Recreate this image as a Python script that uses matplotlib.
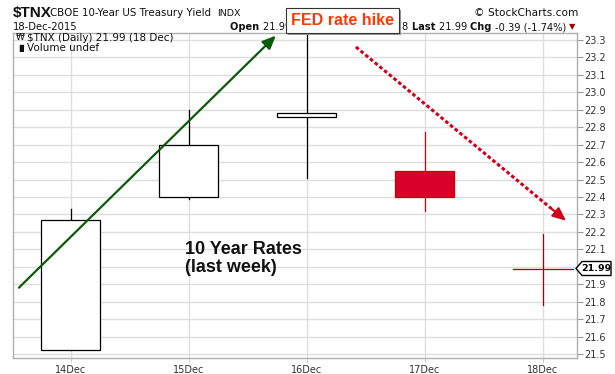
import matplotlib
matplotlib.use("Agg")
import matplotlib.pyplot as plt
from matplotlib.patches import Rectangle, Polygon
import matplotlib.transforms as mtrans

# ---- data ----
dates = ["14Dec", "15Dec", "16Dec", "17Dec", "18Dec"]
opens = [21.52, 22.40, 22.86, 22.55, 21.99]
closes = [22.27, 22.70, 22.88, 22.40, 21.99]
highs = [22.33, 22.90, 23.34, 22.77, 22.19]
lows = [21.52, 22.39, 22.51, 22.32, 21.78]
yticks = [21.5, 21.6, 21.7, 21.8, 21.9, 22.0, 22.1, 22.2, 22.3, 22.4,
          22.5, 22.6, 22.7, 22.8, 22.9, 23.0, 23.1, 23.2, 23.3]
last_value = 21.99
green_arrow = [(-0.44, 21.88), (1.737, 23.325)]
red_arrow = [(2.415, 23.26), (4.195, 22.264)]

W, H = 615, 374
fig = plt.figure(figsize=(W / 100, H / 100), dpi=100)
fig.patch.set_facecolor("white")

L, R, T, B = 13, 577, 33, 358
ax = fig.add_axes([L / W, (H - B) / H, (R - L) / W, (B - T) / H])
ax.set_xlim(-0.49, 4.288)
ax.set_ylim(21.477, 23.34)

for s in ax.spines.values():
    s.set_color("#b0b0b0")
    s.set_linewidth(1.0)

ax.set_yticks(yticks)
# the 22.0 label is covered by the last-value tag in the reference
ax.set_yticklabels(["" if abs(v - 22.0) < 1e-9 else f"{v:.1f}" for v in yticks])
ax.yaxis.tick_right()
ax.tick_params(axis="y", which="both", length=4, width=0.8, color="#999999",
               labelsize=7, labelcolor="#333333", pad=1)
ax.set_xticks(range(len(dates)))
ax.set_xticklabels(dates)
ax.tick_params(axis="x", length=3, width=0.8, color="#cccccc",
               labelsize=7, labelcolor="#333333", pad=2)
ax.grid(True, color="#dedede", linewidth=1.0)
ax.set_axisbelow(True)

bw = 0.5
for i, (o, c, h, l) in enumerate(zip(opens, closes, highs, lows)):
    if o == c:
        col = "#a80000"
        ax.plot([i, i], [l, h], color=col, lw=0.9, zorder=3)
        ax.plot([i - bw / 2, i + bw / 2], [o, o], color=col, lw=0.9, zorder=3)
    elif c > o:
        ax.plot([i, i], [l, h], color="black", lw=0.9, zorder=2)
        ax.add_patch(Rectangle((i - bw / 2, o), bw, c - o, facecolor="white",
                               edgecolor="black", lw=0.9, zorder=3))
    else:
        ax.plot([i, i], [l, h], color="#d4001f", lw=0.9, zorder=2)
        ax.add_patch(Rectangle((i - bw / 2, c), bw, o - c, facecolor="#d9002b",
                               edgecolor="#cc0000", lw=0.9, zorder=3))

# arrows
ax.annotate("", xy=green_arrow[1], xytext=green_arrow[0], annotation_clip=False,
            arrowprops=dict(arrowstyle="-|>,head_length=0.8,head_width=0.35",
                            color="#0b5a0b", lw=1.6, shrinkA=0, shrinkB=0),
            zorder=5)
(x1, y1), (x2, y2) = red_arrow
f = 0.93
xm, ym = x1 + (x2 - x1) * f, y1 + (y2 - y1) * f
ax.plot([x1, xm], [y1, ym], color="#d0001a", lw=2.2, linestyle=(0, (1.2, 0.8)),
        zorder=5, clip_on=False)
ax.annotate("", xy=(x2, y2), xytext=(xm, ym), annotation_clip=False,
            arrowprops=dict(arrowstyle="-|>,head_length=0.8,head_width=0.35",
                            color="#d0001a", lw=1.5, shrinkA=0, shrinkB=0),
            zorder=5)

# last value tag
tr = mtrans.blended_transform_factory(fig.transFigure, ax.transData)
hh = 7 / 174.4
x0 = 576 / W
tag = Polygon([(x0, last_value), ((576 + 6) / W, last_value + hh),
               (611 / W, last_value + hh), (611 / W, last_value - hh),
               ((576 + 6) / W, last_value - hh)], closed=True,
              facecolor="white", edgecolor="black", lw=1.0, transform=tr,
              clip_on=False, zorder=6)
fig.add_artist(tag)
fig.text(596.5 / W, last_value, f"{last_value:.2f}", transform=tr, ha="center",
         va="center", fontsize=6.8, fontweight="bold", color="black", zorder=7)

# legend inside
def fy(py):
    return 1 - py / H

fig.text(27 / W, fy(38), "$TNX (Daily) 21.99 (18 Dec)", fontsize=7.5,
         va="center", ha="left", color="#111111", family="DejaVu Sans")
fig.text(27 / W, fy(48), "Volume undef", fontsize=7.5, va="center", ha="left",
         color="#111111", family="DejaVu Sans")
fig.text(16 / W, fy(38), "\u20a9", fontsize=6.5, va="center", ha="left", color="#111")
fig.text(16 / W, fy(48), "\u2590\u258c", fontsize=5, va="center", ha="left", color="#111")

# chart annotation text
fig.text(185 / W, fy(254), "10 Year Rates", fontsize=13, fontweight="bold",
         family="Liberation Sans", va="baseline", ha="left", color="#111111")
fig.text(185 / W, fy(272), "(last week)", fontsize=13, fontweight="bold",
         family="Liberation Sans", va="baseline", ha="left", color="#111111")

# header
fig.text(13 / W, fy(16.5), "$TNX", fontsize=11, fontweight="bold",
         family="Liberation Sans", va="baseline", ha="left", color="#111")
fig.text(50 / W, fy(16.5), "CBOE 10-Year US Treasury Yield", fontsize=7.4,
         family="DejaVu Sans", va="baseline", ha="left", color="#111")
fig.text(217 / W, fy(16.5), "INDX", fontsize=6.8, family="DejaVu Sans",
         va="baseline", ha="left", color="#111")
fig.text(578 / W, fy(16.5), "\u00a9 StockCharts.com", fontsize=7.6, family="DejaVu Sans",
         va="baseline", ha="right", color="#111")
fig.text(13 / W, fy(30.5), "18-Dec-2015", fontsize=7.2, family="DejaVu Sans",
         va="baseline", ha="left", color="#111")

parts = [("Open ", True), ("21.99 ", False), ("High ", True), ("22.19 ", False),
         ("Low ", True), ("21.78 ", False), ("Last ", True), ("21.99 ", False),
         ("Chg ", True), ("-0.39 (-1.74%) ", False)]
prev_artist = None
for s, bold in parts:
    if prev_artist is None:
        prev_artist = fig.text(230 / W, fy(30.5), s, fontsize=7.1, family="DejaVu Sans",
                               fontweight="bold" if bold else "normal", color="#111",
                               va="baseline", ha="left")
    else:
        prev_artist = ax.annotate(s, xy=(1, 0), xycoords=prev_artist,
                                  va="bottom", ha="left", fontsize=7.1,
                                  family="DejaVu Sans",
                                  fontweight="bold" if bold else "normal",
                                  color="#111", annotation_clip=False)
ax.annotate("\u25bc", xy=(1, 0.1), xycoords=prev_artist, va="bottom", ha="left",
            fontsize=6, color="#a00000", annotation_clip=False)

# FED rate hike box
shadow = Rectangle((288 / W, fy(35)), (399 - 286) / W, (35 - 10) / H,
                   transform=fig.transFigure, facecolor="#999999",
                   edgecolor="none", zorder=20)
box = Rectangle((286 / W, fy(33)), (399 - 286) / W, (33 - 8) / H,
                transform=fig.transFigure, facecolor="white",
                edgecolor="#333333", lw=0.8, zorder=21)
fig.add_artist(shadow)
fig.add_artist(box)
fig.text(342.5 / W, fy(20.5), "FED rate hike", fontsize=11.5, fontweight="bold",
         family="Liberation Sans", va="center", ha="center", color="#ff3a00",
         zorder=22)

fig.savefig("out.png", dpi=100)
